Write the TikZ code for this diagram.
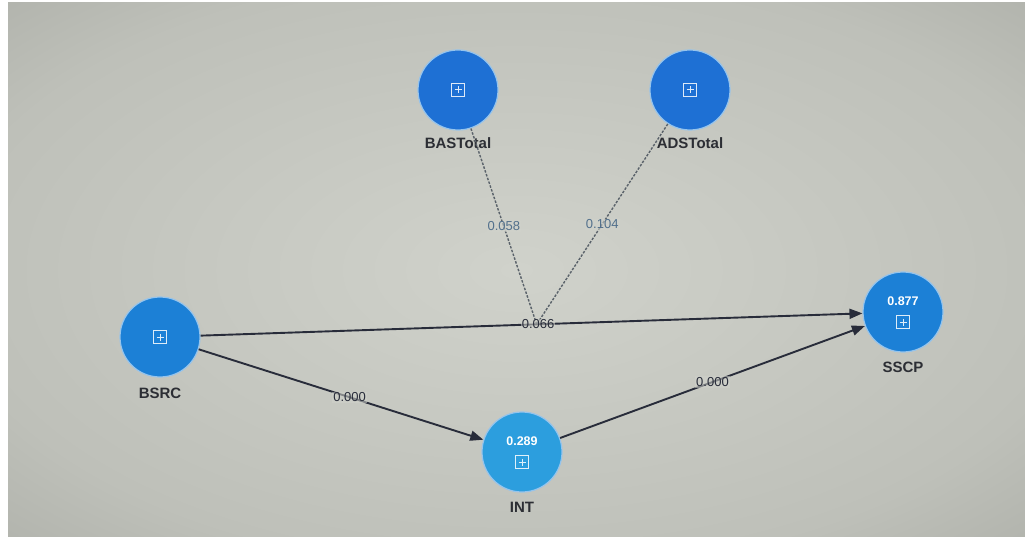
\documentclass[tikz,border=0pt]{standalone}
\usepackage{fontspec}
\setmainfont{Liberation Sans}
\usetikzlibrary{positioning, calc, arrows.meta}

\definecolor{bgin}{RGB}{208,210,203}
\definecolor{bgmid}{RGB}{190,192,185}
\definecolor{bgout}{RGB}{124,126,120}
\definecolor{lvblue}{RGB}{30,112,212}
\definecolor{endoblue}{RGB}{28,128,214}
\definecolor{intblue}{RGB}{44,158,222}
\definecolor{halo}{RGB}{150,196,236}
\definecolor{pathcol}{RGB}{40,44,58}
\definecolor{modcol}{RGB}{90,98,106}
\definecolor{modtext}{RGB}{82,112,140}
\definecolor{captext}{RGB}{44,46,52}

\pgfdeclareradialshading{screen}{\pgfpoint{0bp}{0bp}}{color(0bp)=(bgin); color(28bp)=(bgmid); color(71bp)=(bgout)}

\tikzset{
    latent/.style={circle, draw=halo, line width=1.2pt, minimum size=80pt, inner sep=0pt},
    caption/.style={text=captext, font=\fontsize{15}{17}\selectfont\bfseries},
    rsq/.style={text=white, font=\fontsize{12.5}{14}\selectfont\bfseries},
    coef/.style={text=pathcol, font=\fontsize{13}{15}\selectfont, fill=bgin, fill opacity=0.55, text opacity=1, inner sep=1pt},
    modcoef/.style={coef, text=modtext},
    structural/.style={draw=pathcol, line width=1.9pt, -{Triangle[length=13pt, width=10pt]}},
    moderation/.style={draw=modcol, line width=1.4pt, dash pattern=on 2.5pt off 1.5pt},
    expander/.pic={
        \draw[white, opacity=0.85, line width=1pt] (-6.5,-6.5) rectangle (6.5,6.5);
        \draw[white, opacity=0.85, line width=1pt] (-3.5,0) -- (3.5,0) (0,-3.5) -- (0,3.5);
    }
}

\begin{document}
\begin{tikzpicture}[x=1pt, y=-1pt]
    \useasboundingbox (0,0) rectangle (1025,537);
    \fill[white] (0,0) rectangle (1025,537);
    \shade[shading=screen] (8,3) rectangle (1025,537);

    % constructs
    \node[latent, fill=lvblue] (bas) at (458,90) {};
    \node[latent, fill=lvblue] (ads) at (690,90) {};
    \node[latent, fill=endoblue] (bsrc) at (160,337) {};
    \node[latent, fill=endoblue] (sscp) at (903,312) {};
    \node[latent, fill=intblue] (int) at (522,452) {};

    \node[caption, below=3pt of bas] (basl) {BASTotal};
    \node[caption, below=3pt of ads] (adsl) {ADSTotal};
    \node[caption, below=7pt of bsrc] (bsrcl) {BSRC};
    \node[caption, below=6pt of sscp] (sscpl) {SSCP};
    \node[caption, below=6pt of int] (intl) {INT};

    % R squared
    \node[rsq] (sscpv) at ([yshift=11pt]sscp.center) {0.877};
    \node[rsq] (intv) at ([yshift=11pt]int.center) {0.289};

    \pic at (bas.center) {expander};
    \pic at (ads.center) {expander};
    \pic at (bsrc.center) {expander};
    \pic at ([yshift=-10pt]sscp.center) {expander};
    \pic at ([yshift=-10pt]int.center) {expander};

    % moderating effects
    \coordinate (mod) at ($(bsrc)!0.507!(sscp)$);
    \draw[moderation] (bas) -- (mod) node[modcoef, pos=0.5] (basc) {0.058};
    \draw[moderation] (ads) -- (mod) node[modcoef, pos=0.5] (adsc) {0.104};

    % paths
    \draw[structural] (bsrc) -- (sscp) node[coef, pos=0.51] (c1) {0.066};
    \draw[structural] (bsrc) -- (int) node[coef, pos=0.53] (c2) {0.000};
    \draw[structural] (int) -- (sscp) node[coef, pos=0.5] (c3) {0.000};
\end{tikzpicture}
\end{document}
